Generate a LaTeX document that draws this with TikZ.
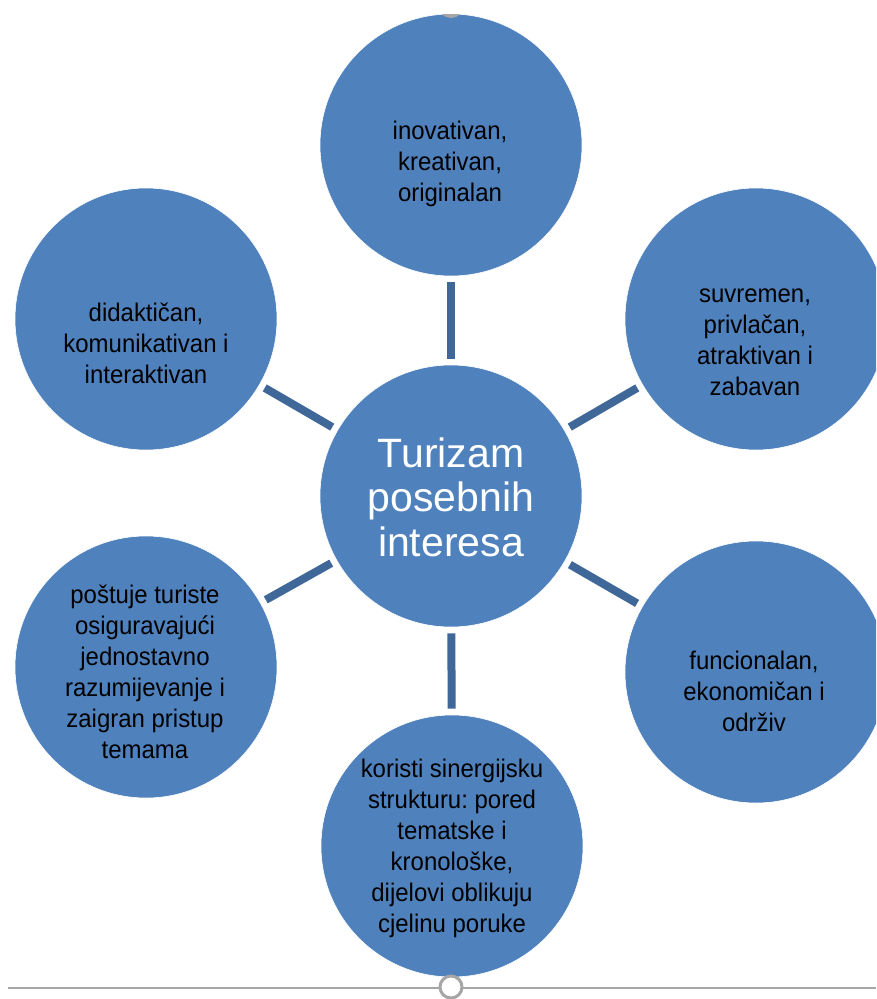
\documentclass[tikz,border=0pt]{standalone}
\usepackage{fontspec}
\setmainfont[FakeStretch=0.94]{Liberation Sans}
\newfontfamily\centrefont{Liberation Sans}
\frenchspacing
\definecolor{bubble}{HTML}{4F81BD}
\definecolor{linkc}{HTML}{3F6798}
\definecolor{handle}{HTML}{A6A6A6}
\tikzset{
  bubble/.style={circle, fill=bubble, draw=white, line width=0.6pt, minimum size=262pt, inner sep=0pt},
  btext/.style={align=center, text=black, font=\frenchspacing\fontsize{25.5}{31}\selectfont, inner sep=0pt},
  ctext/.style={align=center, text=white, font=\centrefont\fontsize{41}{44.5}\selectfont, inner sep=0pt},
  link/.style={draw=linkc, line width=8pt, shorten >=6pt, shorten <=6pt}
}
\begin{document}
\begin{tikzpicture}[x=1pt,y=-1pt]
\useasboundingbox (0,0) rectangle (876,999);
\clip (0,0) rectangle (876,999);
\fill[white] (0,0) rectangle (876,999);
% circles
\node[bubble] (c) at (451,496) {};
\node[bubble] (t) at (451,145) {};
\node[bubble] (rt) at (756,319) {};
\node[bubble] (rb) at (756,672) {};
\node[bubble] (b) at (452,846) {};
\node[bubble] (lb) at (146,667) {};
\node[bubble] (lt) at (146,319) {};
% connectors
\draw[link] (t) -- (c);
\draw[link] (rt) -- (c);
\draw[link] (rb) -- (c);
\draw[link] (b) -- (c);
\draw[link] (lb) -- (c);
\draw[link] (lt) -- (c);
% texts
\node[ctext] (ct) at (451,497) {Turizam\\posebnih\\interesa};
\node[btext] (tt) at (450,164) {inovativan,\\kreativan,\\originalan};
\node[btext] (rtt) at (755,342) {suvremen,\\privlačan,\\atraktivan i\\zabavan};
\node[btext] (rbt) at (754,691) {funcionalan,\\ekonomičan i\\održiv};
\node[btext] (bt) at (452,848) {koristi sinergijsku\\strukturu: pored\\tematske i\\kronološke,\\dijelovi oblikuju\\cjelinu poruke};
\node[btext] (lbt) at (145,672) {poštuje turiste\\osiguravajući\\jednostavno\\razumijevanje i\\zaigran pristup\\temama};
\node[btext] (ltt) at (146,343) {didaktičan,\\komunikativan i\\interaktivan};
% top handle
\begin{scope}
\clip (451,145) circle (131pt);
\fill[handle] (451,5) circle (13pt);
\end{scope}
% bottom guide line and handle
\coordinate (gl) at (8,988);
\coordinate (gr) at (876,988);
\draw[handle, line width=2pt] (gl) -- (gr);
\node[circle, draw=handle, fill=white, line width=3pt, minimum size=22pt, inner sep=0pt] (h) at (451,987) {};
\end{tikzpicture}
\end{document}
